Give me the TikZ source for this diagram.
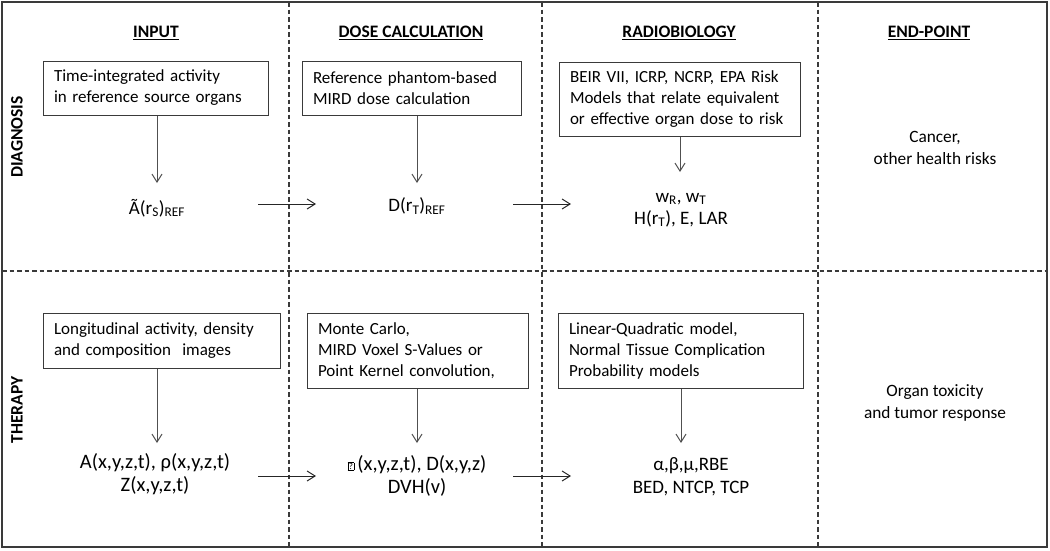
\documentclass[tikz,border=0pt]{standalone}
\usepackage{fontspec}
\setmainfont{Carlito}
\usetikzlibrary{arrows.meta}
\definecolor{linegray}{HTML}{3A3A3A}
\definecolor{arrgray}{HTML}{505050}
\newcommand{\missglyph}{\raisebox{1pt}{\setlength{\fboxsep}{0.6pt}\setlength{\fboxrule}{0.5pt}\fbox{\fontsize{9}{9}\selectfont ?}}\,}
\begin{document}
\begin{tikzpicture}[x=1pt,y=-1pt,
  boxtext/.style={draw=linegray, line width=1pt, inner xsep=11pt, inner ysep=0pt, align=left,
     font=\fontsize{17}{21}\selectfont},
  header/.style={font=\fontsize{17.5}{21}\selectfont\bfseries},
  rowlabel/.style={font=\fontsize{17.5}{21}\selectfont\bfseries, rotate=90},
  quantity/.style={font=\fontsize{19}{22}\selectfont, align=center, inner sep=1pt},
  bigquantity/.style={font=\fontsize{20.5}{23}\selectfont, align=center, inner sep=1pt},
  endtext/.style={font=\fontsize{17.3}{22}\selectfont, align=center},
  divider/.style={linegray, line width=1.3pt, dash pattern=on 4.5pt off 3pt},
  downarr/.style={arrgray, line width=1pt, -{Straight Barb[length=8pt,width=10pt]}},
  sidearr/.style={black!85, line width=1pt, -{Straight Barb[length=8pt,width=10pt]}}
]
\useasboundingbox (0,0) rectangle (1050,550);
% dividers
\draw[divider] (2,271) -- (1047,271);
\draw[divider] (289,2) -- (289,547);
\draw[divider] (542,2) -- (542,547);
\draw[divider] (818,2) -- (818,547);
% outer frame
\draw[linegray, line width=2pt] (2,2) rectangle (1047,547);

% headers
\node[header] (hin) at (156,33) {\underline{INPUT}};
\node[header] (hdose) at (411,33) {\underline{DOSE CALCULATION}};
\node[header] (hrad) at (679,33) {\underline{RADIOBIOLOGY}};
\node[header] (hend) at (929,33) {\underline{END-POINT}};

% row labels
\node[rowlabel] (rdiag) at (17,137) {DIAGNOSIS};
\node[rowlabel] (rther) at (17,410) {THERAPY};

% boxes row 1
\node[boxtext, minimum width=225pt, minimum height=54pt, text width=203pt] (b1) at (155.5,88)
  {Time-integrated activity\\in reference source organs};
\node[boxtext, minimum width=219pt, minimum height=54pt, text width=197pt] (b2) at (411.5,88)
  {Reference phantom-based\\MIRD dose calculation};
\node[boxtext, minimum width=241pt, minimum height=74pt, text width=219pt] (b3) at (679.5,99)
  {BEIR VII, ICRP, NCRP, EPA Risk\\Models that relate equivalent\\or effective organ dose to risk};

% boxes row 2
\node[boxtext, minimum width=237pt, minimum height=55pt, text width=215pt] (b4) at (161.5,340.5)
  {Longitudinal activity, density\\and composition~ images};
\node[boxtext, minimum width=221pt, minimum height=75pt, text width=199pt] (b5) at (417.5,350.5)
  {Monte Carlo,\\MIRD Voxel S-Values or\\Point Kernel convolution,};
\node[boxtext, minimum width=245pt, minimum height=75pt, text width=223pt] (b6) at (680.5,350.5)
  {Linear-Quadratic model,\\Normal Tissue Complication\\Probability models};

% quantities row 1
\node[quantity] (q1) at (157,208) {Ã(r\textsubscript{S})\textsubscript{REF}};
\node[quantity] (q2) at (417,206) {D(r\textsubscript{T})\textsubscript{REF}};
\node[quantity] (q3) at (681,210) {w\textsubscript{R}, w\textsubscript{T}\\H(r\textsubscript{T}), E, LAR};
\node[endtext] (e1) at (935,148) {Cancer,\\other health risks};

% quantities row 2
\node[bigquantity] (q4) at (155,474) {A(x,y,z,t), ρ(x,y,z,t)\\Z(x,y,z,t)};
\node[bigquantity] (q5) at (417,476) {\missglyph(x,y,z,t), D(x,y,z)\\DVH(v)};
\node[quantity, font=\fontsize{19}{23}\selectfont] (q6) at (691,477) {α,β,μ,RBE\\BED, NTCP, TCP};
\node[endtext] (e2) at (935,403) {Organ toxicity\\and tumor response};

% vertical arrows
\coordinate (t1) at (157,183);
\coordinate (t2) at (417,183);
\coordinate (t3) at (680,172);
\coordinate (t4) at (157,443);
\coordinate (t5) at (417,443);
\coordinate (t6) at (681,443);
\draw[downarr] (b1.south -| t1) -- (t1);
\draw[downarr] (b2.south -| t2) -- (t2);
\draw[downarr] (b3.south -| t3) -- (t3);
\draw[downarr] (b4.south -| t4) -- (t4);
\draw[downarr] (b5.south -| t5) -- (t5);
\draw[downarr] (b6.south -| t6) -- (t6);

% horizontal arrows
\coordinate (h1a) at (258,204); \coordinate (h1b) at (316,204);
\coordinate (h2a) at (513,204); \coordinate (h2b) at (571,204);
\coordinate (h3a) at (258,476); \coordinate (h3b) at (316,476);
\coordinate (h4a) at (513,476); \coordinate (h4b) at (571,476);
\draw[sidearr] (h1a) -- (h1b);
\draw[sidearr] (h2a) -- (h2b);
\draw[sidearr] (h3a) -- (h3b);
\draw[sidearr] (h4a) -- (h4b);
\end{tikzpicture}
\end{document}
